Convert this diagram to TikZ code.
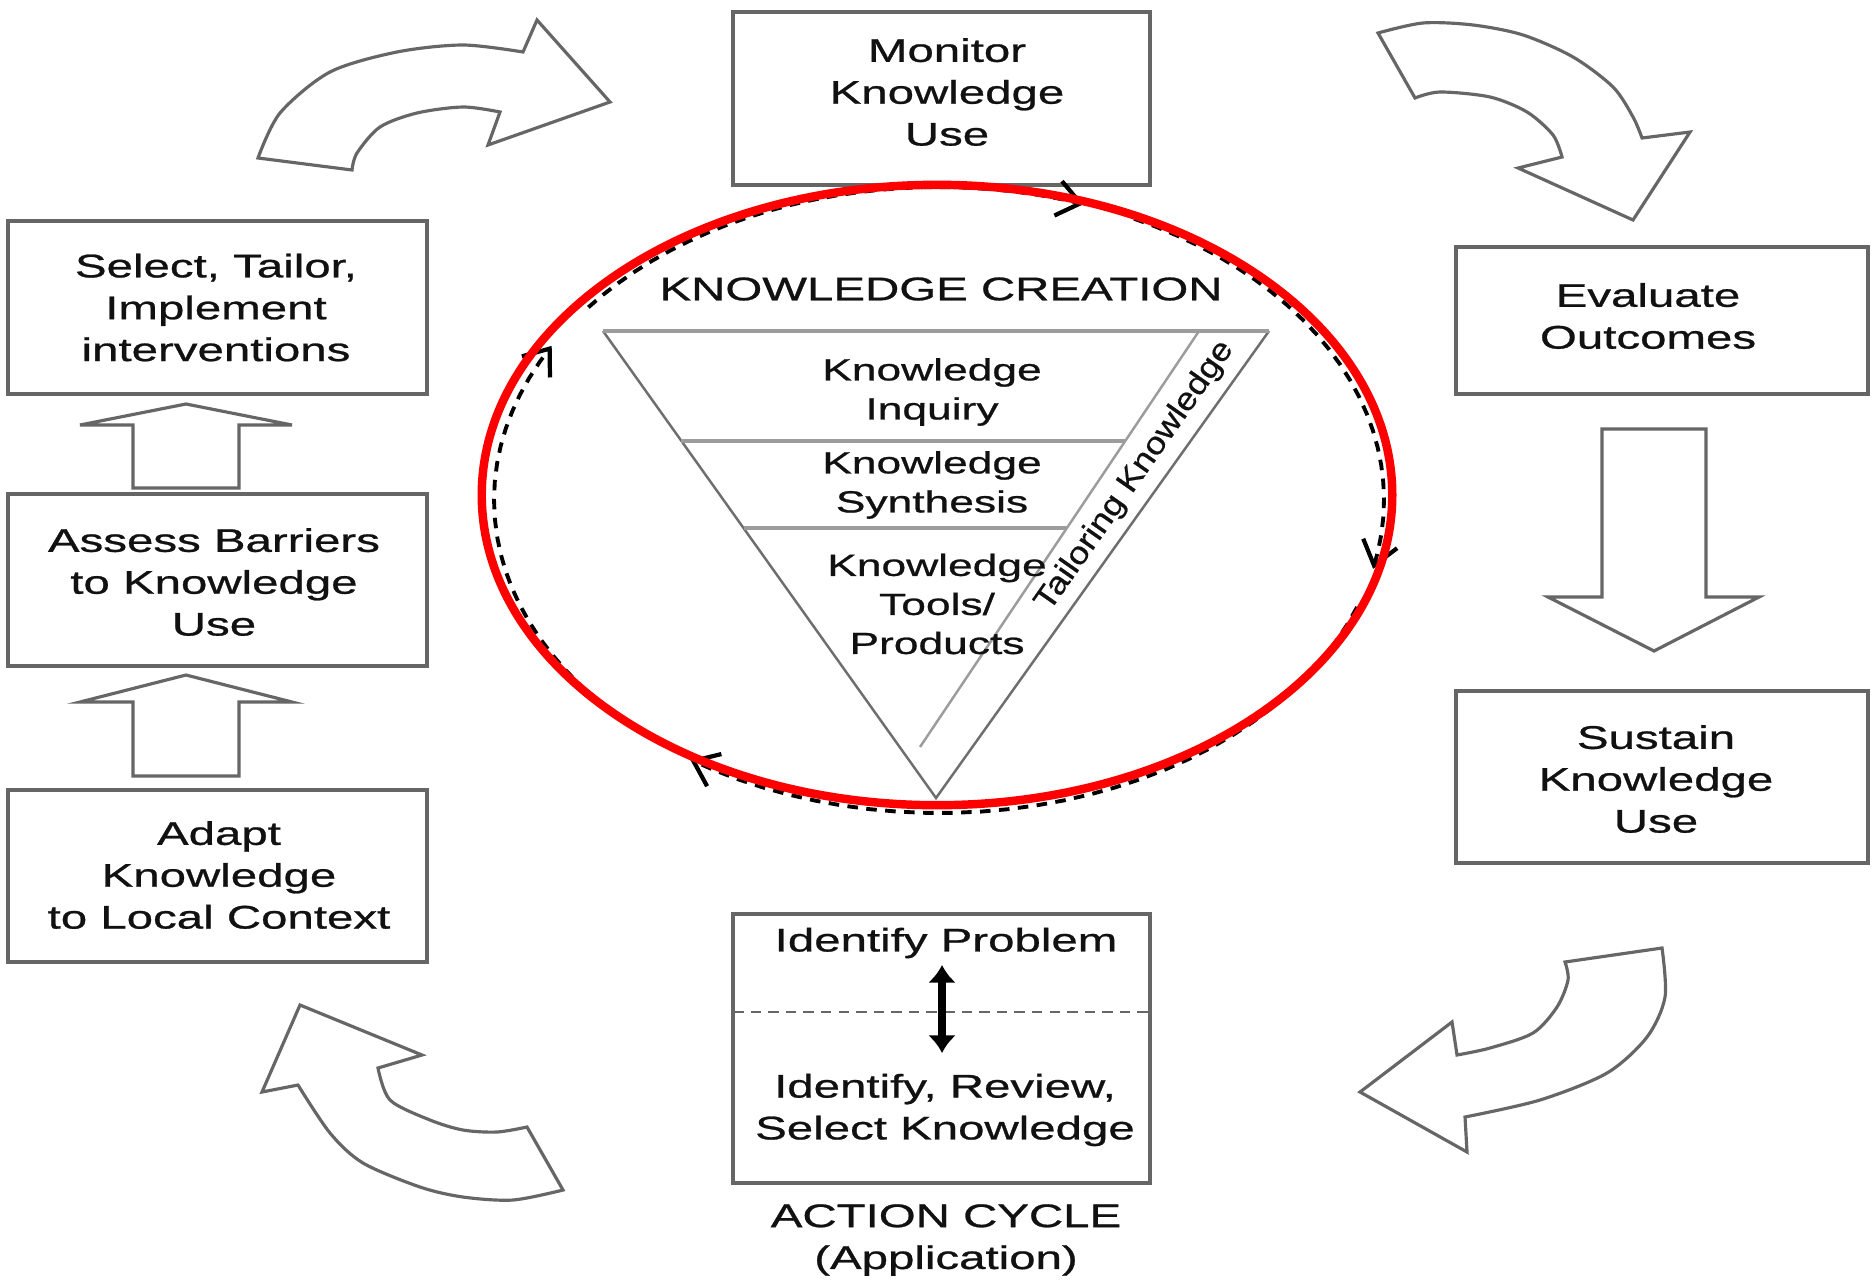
\documentclass[tikz,border=0pt]{standalone}
\usepackage{fontspec}
\setmainfont{Liberation Sans}[FakeStretch=1.45,FakeBold=0.8]
\newfontfamily\bandfont{Liberation Sans}[FakeStretch=1.15,FakeBold=0.6]
\usetikzlibrary{arrows.meta,shapes.geometric}
\definecolor{boxline}{HTML}{666666}
\definecolor{triline}{HTML}{6E6E6E}
\definecolor{trilight}{HTML}{9C9C9C}
\definecolor{ink}{HTML}{111111}
\begin{document}
\begin{tikzpicture}[x=0.01cm,y=-0.01cm,
  stagebox/.style={draw=boxline,line width=1pt,fill=white,inner sep=0pt},
  stagetext/.style={text=ink,align=center,inner sep=0pt,font=\fontsize{9.3}{11.9}\selectfont},
  tritext/.style={text=ink,align=center,inner sep=0pt,font=\fontsize{8.7}{11.1}\selectfont},
  blockarrow/.style={draw=boxline,line width=0.9pt,fill=white,line join=miter},
  cycleline/.style={black,line width=1.1pt,dash pattern=on 3pt off 2.4pt,
    -{Straight Barb[length=6.5pt,width=10pt,line width=1.2pt]}},
]
% canvas
\path[fill=white] (0,0) rectangle (1874,1282);
\useasboundingbox (0,0) rectangle (1874,1282);

% ---- action cycle boxes ----
\node[stagebox,minimum width=4.17cm,minimum height=1.73cm] (monitor)  at (941.5,98.5) {};
\node[stagebox,minimum width=4.12cm,minimum height=1.47cm] (evaluate) at (1662,320.5) {};
\node[stagebox,minimum width=4.12cm,minimum height=1.72cm] (sustain)  at (1662,777) {};
\node[stagebox,minimum width=4.17cm,minimum height=2.69cm] (identify) at (941.5,1048.5) {};
\node[stagebox,minimum width=4.19cm,minimum height=1.72cm] (adapt)    at (217.5,876) {};
\node[stagebox,minimum width=4.19cm,minimum height=1.72cm] (assess)   at (217.5,580) {};
\node[stagebox,minimum width=4.19cm,minimum height=1.73cm] (select)   at (217.5,307.5) {};

\node[stagetext] (monitorT)  at (947,92)   {Monitor\\Knowledge\\Use};
\node[stagetext] (evaluateT) at (1648,316) {Evaluate\\Outcomes};
\node[stagetext] (sustainT)  at (1656,779) {Sustain\\Knowledge\\Use};
\node[stagetext] (adaptT)    at (219,875)  {Adapt\\Knowledge\\to Local Context};
\node[stagetext] (assessT)   at (214,582)  {Assess Barriers\\to Knowledge\\Use};
\node[stagetext] (selectT)   at (216,307.5){Select, Tailor,\\Implement\\interventions};
\node[stagetext] (problemT)  at (946,943)  {Identify Problem};
\node[stagetext] (reviewT)   at (945,1110) {Identify, Review,\\Select Knowledge};
\node[stagetext] (cycleT)    at (946,1240) {ACTION CYCLE\\(Application)};

% split inside the identify box
\coordinate (splitL) at (733,1012);
\coordinate (splitR) at (1150,1012);
\draw[boxline,line width=0.6pt,dash pattern=on 3pt off 2pt] (splitL) -- (splitR);
\coordinate (linkTop) at (942,965);
\coordinate (linkBot) at (942,1053);
\draw[black,line width=2.2pt,{Latex[length=5pt,width=8pt]}-{Latex[length=5pt,width=8pt]}] (linkTop) -- (linkBot);

% ---- straight block arrows ----
\draw[blockarrow] (133,488) -- (133,425) -- (80,425) -- (186,404) -- (292,425)
  -- (239,425) -- (239,488) -- cycle;
\draw[blockarrow] (133,776) -- (133,702) -- (80,702) -- (186,675) -- (292,702)
  -- (239,702) -- (239,776) -- cycle;
\draw[blockarrow] (1602,429) -- (1706,429) -- (1706,597) -- (1759,597) -- (1654,651)
  -- (1548,597) -- (1602,597) -- cycle;

% ---- curved block arrows ----
% top left
\draw[blockarrow] plot[smooth] coordinates {(258,158) (280,113) (330,72) (397,52) (463,45) (523,52)}
  -- (537,20) -- (610,102) -- (488,145) -- (500,112)
  -- plot[smooth] coordinates {(500,112) (463,107) (417,113) (380,127) (357,153) (352,170)}
  -- cycle;
% top right
\draw[blockarrow] plot[smooth] coordinates {(1378,33) (1423,23) (1473,25) (1523,35) (1573,57) (1613,87) (1633,117) (1642,138)}
  -- (1690,132) -- (1633,220) -- (1518,168) -- (1562,157)
  -- plot[smooth] coordinates {(1562,157) (1553,135) (1527,112) (1490,97) (1440,92) (1415,98)}
  -- cycle;
% bottom right
\draw[blockarrow] (1565,962) -- (1662,948)
  -- plot[smooth] coordinates {(1662,948) (1665,997) (1647,1037) (1607,1073) (1540,1100) (1465,1117)}
  -- (1467,1152) -- (1360,1092) -- (1452,1022) -- (1457,1055)
  -- plot[smooth] coordinates {(1457,1055) (1490,1048) (1533,1033) (1557,1007) (1568,980) (1565,962)}
  -- cycle;
% bottom left
\draw[blockarrow] (300,1005) -- (422,1055) -- (378,1068)
  -- plot[smooth] coordinates {(378,1068) (390,1100) (430,1120) (463,1130) (497,1132) (527,1127)}
  -- (563,1190)
  -- plot[smooth] coordinates {(563,1190) (513,1200) (463,1197) (420,1187) (363,1163) (330,1133) (298,1085)}
  -- (262,1092) -- cycle;

% ---- knowledge creation funnel ----
\coordinate (tTL) at (603,331);
\coordinate (tTR) at (1269,331);
\coordinate (tTip) at (936,798);
\coordinate (bandTop) at (1199,331);
\coordinate (bandEnd) at (920,747);
\coordinate (l1L) at (681,441);
\coordinate (l1R) at (1125,441);
\coordinate (l2L) at (744,528);
\coordinate (l2R) at (1067,528);
\draw[triline,line width=0.7pt] (tTL) -- (tTip) -- (tTR);
\draw[trilight,line width=0.7pt] (bandTop) -- (bandEnd);
\draw[trilight,line width=1.3pt] (tTL) -- (tTR);
\draw[trilight,line width=1.3pt] (l1L) -- (l1R);
\draw[trilight,line width=1.3pt] (l2L) -- (l2R);

\node[stagetext] (creationT) at (941,289) {KNOWLEDGE CREATION};
\node[tritext] (inquiryT)   at (932,392) {Knowledge\\Inquiry};
\node[tritext] (synthT)     at (932,485) {Knowledge\\Synthesis};
\node[tritext] (toolsT)     at (937,604) {Knowledge\\Tools/\\Products};
\node[text=ink,inner sep=0pt,rotate=55,font=\bandfont\fontsize{8.9}{10}\selectfont] (tailorT)
  at (1135,476) {Tailoring Knowledge};

% ---- knowledge creation cycle (dashed) ----
\draw[cycleline] plot[domain=218:289,samples=25] ({939+445*cos(\x)},{500+313*sin(\x)});
\draw[cycleline] plot[domain=296:372.7,samples=25] ({939+445*cos(\x)},{500+313*sin(\x)});
\draw[cycleline] plot[domain=20:124,samples=30] ({939+445*cos(\x)},{500+313*sin(\x)});
\draw[cycleline] plot[domain=131:209.5,samples=25] ({939+445*cos(\x)},{500+313*sin(\x)});

% ---- highlight ----
\node[draw=red,line width=2.4pt,ellipse,inner sep=0pt,minimum width=9.1cm,minimum height=6.2cm] (focus) at (937,495) {};
\end{tikzpicture}
\end{document}
